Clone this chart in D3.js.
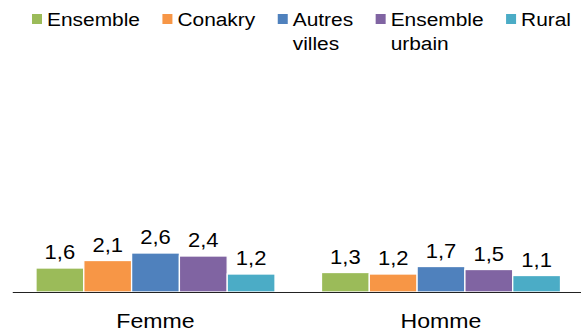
<!DOCTYPE html>
<html>
<head>
<meta charset="utf-8">
<script src="https://cdn.jsdelivr.net/npm/d3@7/dist/d3.min.js"></script>
<style>
  html, body { margin: 0; padding: 0; background: #fff; }
  svg { display: block; font-family: "Liberation Sans", Arial, sans-serif; }
</style>
</head>
<body>
<svg id="chart" width="581" height="334"></svg>
<script>
// Categories and series
const categories = ["Femme", "Homme"];
const seriesNames = ["Ensemble", "Conakry", "Autres villes", "Ensemble urbain", "Rural"];
const seriesColors = ["#9BBB59", "#F79646", "#4F81BD", "#8064A2", "#4BACC6"];
const valuesFemme = [1.6, 2.1, 2.6, 2.4, 1.2];
const valuesHomme = [1.3, 1.2, 1.7, 1.5, 1.1];
const valuesByCategory = [valuesFemme, valuesHomme];

const svg = d3.select("#chart");
const SX = 1.1; // horizontal text stretch

// Scales
const x0 = d3.scaleBand().domain(categories).range([12.75, 583.75]);
const x1 = d3.scaleBand().domain(seriesNames).range([0, x0.bandwidth()])
  .paddingInner(0).paddingOuter(0.486);
const axisY = 292;
const y = d3.scaleLinear().domain([0, 14]).range([axisY, 82]);

const fmt = v => d3.format(".1f")(v).replace(".", ",");

// Bars and value labels
const groups = svg.selectAll("g.cat")
  .data(categories.map((c, i) => ({ cat: c, vals: valuesByCategory[i] })))
  .join("g")
  .attr("class", "cat")
  .attr("transform", d => `translate(${x0(d.cat)},0)`);

groups.selectAll("rect")
  .data(d => d.vals.map((v, j) => ({ name: seriesNames[j], v, color: seriesColors[j] })))
  .join("rect")
  .attr("x", d => x1(d.name))
  .attr("y", d => y(d.v))
  .attr("width", x1.bandwidth())
  .attr("height", d => axisY - y(d.v))
  .attr("fill", d => d.color)
  .attr("stroke", "#fff")
  .attr("stroke-width", 1.3);

groups.selectAll("text.val")
  .data(d => d.vals.map((v, j) => ({ name: seriesNames[j], v })))
  .join("text")
  .attr("class", "val")
  .attr("transform", d => `translate(${x1(d.name) + x1.bandwidth() / 2},${y(d.v) - 8.7}) scale(${SX},1)`)
  .attr("text-anchor", "middle")
  .attr("font-size", 20)
  .attr("fill", "#000")
  .text(d => fmt(d.v));

// Category axis
const xAxis = d3.axisBottom(x0).tickSize(0).tickPadding(0);
const axG = svg.append("g").attr("transform", `translate(0,${axisY})`).call(xAxis);
axG.select(".domain").attr("stroke", "#222").attr("stroke-width", 1).attr("d", `M12.75,0.5H583.75`);
axG.selectAll(".tick text")
  .attr("font-size", 21)
  .attr("font-family", "Liberation Sans, Arial, sans-serif")
  .attr("fill", "#000")
  .attr("dy", null)
  .attr("y", null)
  .attr("transform", `translate(0,36.3) scale(${SX},1)`);

// Legend
const legend = svg.append("g").attr("class", "legend");
let lx = 32;
seriesNames.forEach((name, i) => {
  const g = legend.append("g").attr("transform", `translate(${lx},0)`);
  g.append("rect").attr("x", 0).attr("y", 14).attr("width", 10).attr("height", 10)
    .attr("fill", seriesColors[i]);
  const t = g.append("text")
    .attr("transform", `translate(15,26) scale(${SX},1)`)
    .attr("font-size", 19).attr("fill", "#000");
  name.split(" ").forEach((word, k) => {
    t.append("tspan").attr("x", 0).attr("y", k * 24).text(word);
  });
  const w = t.node().getBBox().width * SX;
  lx += 15 + w + 22.5;
});
</script>
</body>
</html>
